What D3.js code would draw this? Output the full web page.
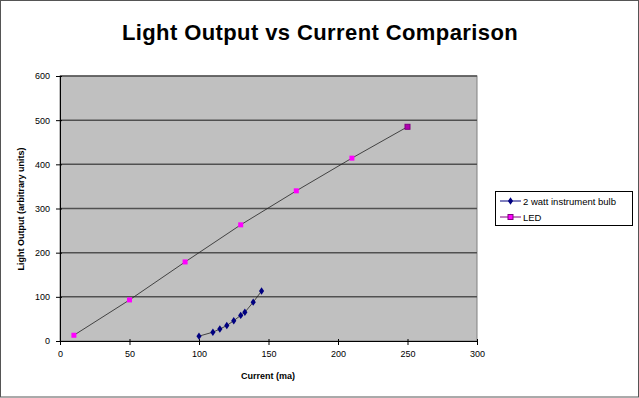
<!DOCTYPE html>
<meta charset="utf-8">
<head>
	<title>Light Output vs Current</title>
</head>
<style>
body { margin: 0; background: #fff; }
svg { display: block; font-family: "Liberation Sans", Arial, sans-serif; }
</style>
<body>
	<svg width="639" height="398"></svg>

	<script src="https://d3js.org/d3.v7.min.js"></script>
	<script>
var bulbCurrent = [100, 110, 115, 120, 125, 130, 133, 139, 145];
var bulbLight = [11, 20, 27, 35, 46, 58, 65, 88, 113];
var ledCurrent = [10, 50, 90, 130, 170, 210, 250];
var ledLight = [13, 93, 179, 263, 340, 414, 485];
var xTicks = [0, 50, 100, 150, 200, 250, 300];
var yTicks = [0, 100, 200, 300, 400, 500, 600];
var seriesNames = ["2 watt instrument bulb", "LED"];

var svg = d3.select("svg");
var pLeft = 60, pRight = 477, pTop = 76, pBottom = 341;

var x = d3.scaleLinear().domain([0, 300]).range([pLeft, pRight]);
var y = d3.scaleLinear().domain([0, 600]).range([pBottom, pTop]);

// outer frame
svg.append("rect").attr("x", 0.5).attr("y", 0.5).attr("width", 638).attr("height", 396.5)
	.attr("fill", "#fff").attr("stroke", "#555").attr("stroke-width", 1);

svg.append("text").attr("x", 320).attr("y", 40).attr("text-anchor", "middle")
	.attr("font-size", 22).attr("font-weight", "bold").attr("letter-spacing", 0.4)
	.text("Light Output vs Current Comparison");

// plot area
svg.append("rect").attr("x", pLeft).attr("y", pTop).attr("width", pRight - pLeft).attr("height", pBottom - pTop)
	.attr("fill", "#c0c0c0").attr("stroke", "#808080");

svg.append("g").selectAll("line").data(yTicks.slice(1)).enter().append("line")
	.attr("x1", pLeft).attr("x2", pRight)
	.attr("y1", function(d) {return y(d);}).attr("y2", function(d) {return y(d);})
	.attr("stroke", "#505050").attr("stroke-width", 1.5);

var xAxis = svg.append("g").attr("transform", "translate(0," + pBottom + ")")
	.call(d3.axisBottom(x).tickValues(xTicks).tickSize(4).tickPadding(6));
var yAxis = svg.append("g").attr("transform", "translate(" + pLeft + ",0)")
	.call(d3.axisLeft(y).tickValues(yTicks).tickSize(4).tickPadding(6));
[xAxis, yAxis].forEach(function(a) {
	a.select(".domain").attr("stroke", "#000");
	a.selectAll(".tick line").attr("stroke", "#000");
	a.selectAll("text").attr("font-size", 9).attr("fill", "#000")
		.attr("font-family", "'Liberation Sans', Arial, sans-serif");
});
xAxis.selectAll(".tick line").attr("y1", -2);
yAxis.selectAll(".tick line").attr("x1", 2);

svg.append("text").attr("x", 268).attr("y", 379).attr("text-anchor", "middle")
	.attr("font-size", 9).attr("font-weight", "bold").text("Current (ma)");
svg.append("text").attr("transform", "translate(24,209) rotate(-90)").attr("text-anchor", "middle")
	.attr("font-size", 9).attr("font-weight", "bold").text("Light Output (arbitrary units)");

var line = d3.line().x(function(d) {return x(d[0]);}).y(function(d) {return y(d[1]);});
var bulb = d3.zip(bulbCurrent, bulbLight);
var led = d3.zip(ledCurrent, ledLight);

svg.append("path").datum(led).attr("d", line).attr("fill", "none").attr("stroke", "#222").attr("stroke-width", 0.8);
svg.append("path").datum(bulb).attr("d", line).attr("fill", "none").attr("stroke", "#222").attr("stroke-width", 0.8);

svg.append("g").selectAll("rect").data(led).enter().append("rect")
	.attr("x", function(d) {return x(d[0]) - 2.5;}).attr("y", function(d) {return y(d[1]) - 2.5;})
	.attr("width", 5).attr("height", 5)
	.attr("fill", function(d, i) {return i == led.length - 1 ? "#b000b0" : "#ff00ff";})
	.attr("stroke", function(d, i) {return i == led.length - 1 ? "#800080" : "none";});

var diamond = d3.symbol().type(d3.symbolDiamond).size(16);
svg.append("g").selectAll("path").data(bulb).enter().append("path")
	.attr("d", diamond)
	.attr("transform", function(d) {return "translate(" + x(d[0]) + "," + y(d[1]) + ") scale(1.2,1)";})
	.attr("fill", "#000080");

// legend
var lg = svg.append("g").attr("transform", "translate(495,191)");
lg.append("rect").attr("x", 0.5).attr("y", 0.5).attr("width", 137).attr("height", 34)
	.attr("fill", "#fff").attr("stroke", "#000");
seriesNames.forEach(function(name, i) {
	var yy = 10 + i * 16;
	lg.append("line").attr("x1", 5).attr("x2", 26).attr("y1", yy).attr("y2", yy)
		.attr("stroke", i == 0 ? "#000080" : "#800080").attr("stroke-width", 1);
	if (i == 0) {
		lg.append("path").attr("d", diamond).attr("transform", "translate(15.5," + yy + ") scale(1.2,1)").attr("fill", "#000080");
	} else {
		lg.append("rect").attr("x", 13).attr("y", yy - 2.5).attr("width", 5).attr("height", 5)
			.attr("fill", "#ff00ff").attr("stroke", "#800080");
	}
	lg.append("text").attr("x", 28).attr("y", yy + 3.5).attr("font-size", 9.5).text(name);
});
	</script>
</body>
</html>
